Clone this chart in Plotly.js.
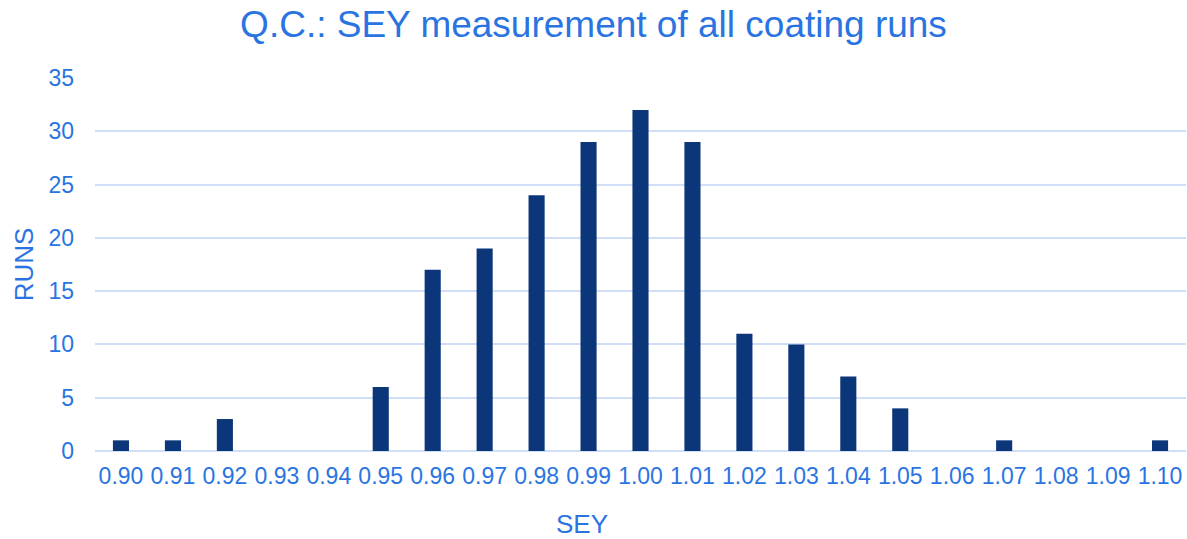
<!DOCTYPE html>
<html>
<head>
<meta charset="utf-8">
<script src="https://cdn.plot.ly/plotly-3.0.1.min.js"></script>
<style>html,body{margin:0;padding:0;background:#fff;}#chart{width:1187px;height:539px;}</style>
</head>
<body>
<div id="chart"></div>
<script>
const sey = ["0.90","0.91","0.92","0.93","0.94","0.95","0.96","0.97","0.98","0.99","1.00","1.01","1.02","1.03","1.04","1.05","1.06","1.07","1.08","1.09","1.10"];
const runs = [1,1,3,0,0,6,17,19,24,29,32,29,11,10,7,4,0,1,0,0,1];
const yTicks = [0,5,10,15,20,25,30,35];

const blue = "#2A74E2";
const font = "Liberation Sans, Arial, sans-serif";

Plotly.newPlot("chart", [{
  type: "bar",
  x: sey,
  y: runs,
  marker: {color: "#0C367A"},
  hoverinfo: "x+y"
}], {
  width: 1187, height: 539,
  margin: {l: 95, r: 1, t: 78, b: 88},
  paper_bgcolor: "#fff", plot_bgcolor: "#fff",
  bargap: 0.69,
  showlegend: false,
  title: {text: "Q.C.: SEY measurement of all coating runs", x: 0.5, xanchor: "center", y: 0.955, yanchor: "middle", font: {family: font, size: 37, color: blue}},
  xaxis: {
    type: "category",
    tickfont: {family: font, size: 23, color: blue},
    showgrid: false, zeroline: false, showline: false,
    ticks: "", ticklabelstandoff: 9
  },
  yaxis: {
    range: [0, 35],
    tickvals: yTicks,
    tickfont: {family: font, size: 23, color: blue},
    gridcolor: "#D0DEF7", gridwidth: 2,
    zeroline: true, zerolinecolor: "#D0DEF7", zerolinewidth: 2,
    showline: false, ticks: "", ticklabelstandoff: 20,
    title: {text: "RUNS", font: {family: font, size: 26, color: blue}, standoff: 7}
  },
  annotations: [{
    text: "SEY", xref: "paper", yref: "paper", x: 0.4464, y: -0.197,
    xanchor: "center", yanchor: "middle", showarrow: false,
    font: {family: font, size: 26, color: blue}
  }]
}, {displayModeBar: false});
</script>
</body>
</html>
